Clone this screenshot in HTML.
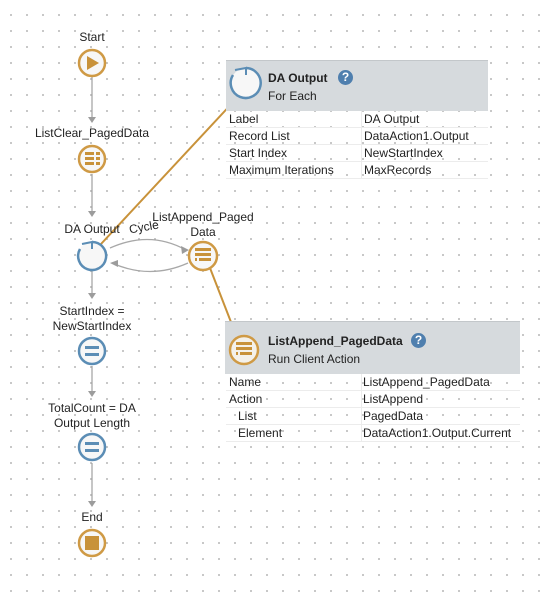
<!DOCTYPE html>
<html><head><meta charset="utf-8"><style>
html,body{margin:0;padding:0}
body{width:540px;height:603px;overflow:hidden;position:relative;background:#fff;
background-image:radial-gradient(circle,#b8b8b8 0.8px,transparent 1.1px);
background-size:16px 16px;background-position:3px 7px;
font-family:"Liberation Sans",sans-serif;font-size:12px;color:#222}
.lbl{position:absolute;text-align:center;font-size:12px;line-height:15px;color:#222}
.hdr{position:absolute;background:#d6dadd;border-top:1px solid #c3c7ca}
.hdr b{position:absolute;font-size:12px;font-weight:bold;white-space:nowrap}
.hdr span{position:absolute;font-size:12px;white-space:nowrap}
.q{width:15px;height:15px;border-radius:50%;background:#4f7fae;color:#fff;font-weight:bold;font-size:11px;text-align:center;line-height:15px}
.row{position:absolute;height:16px;line-height:16px;font-size:12px;border-bottom:1px solid #ececec}
.row i{font-style:normal;position:absolute;top:0}
</style></head><body>
<svg width="540" height="603" style="position:absolute;left:0;top:0">
<g stroke="#a8a8a8" stroke-width="1.3" fill="none">
<line x1="92" y1="77" x2="92" y2="120"/>
<line x1="92" y1="174" x2="92" y2="214"/>
<line x1="92" y1="271" x2="92" y2="296"/>
<line x1="92" y1="366" x2="92" y2="394"/>
<line x1="92" y1="463" x2="92" y2="504"/>
<path d="M110 248 Q150 230 186 250"/>
<path d="M188 263 Q150 280 112 263"/>
</g>
<g fill="#9c9c9c">
<path d="M88 117 L96 117 L92 123Z"/><path d="M88 211 L96 211 L92 217Z"/>
<path d="M88 293 L96 293 L92 299Z"/><path d="M88 391 L96 391 L92 397Z"/>
<path d="M88 501 L96 501 L92 507Z"/>
<path d="M181 246 L189 250 L182 254Z"/><path d="M118 260 L110 263 L118 267Z"/>
</g>
<g stroke="#c8923a" stroke-width="2">
<line x1="101" y1="244" x2="236" y2="99"/>
<line x1="210" y1="268" x2="236" y2="335"/>
</g>
<circle cx="92" cy="63" r="13" fill="#f7f7f7" stroke="#cf9a45" stroke-width="2.5"/>
<path d="M87 56 L99 63 L87 70Z" fill="#c8923a"/>
<circle cx="92" cy="159" r="13" fill="#f7f7f7" stroke="#cf9a45" stroke-width="2.5"/>
<g fill="#c8923a"><rect x="85" y="152" width="9" height="3"/><rect x="85" y="157" width="9" height="3"/><rect x="85" y="162" width="9" height="3"/>
<rect x="96" y="152" width="4" height="3"/><rect x="96" y="157" width="4" height="3"/><rect x="96" y="162" width="4" height="3"/></g>
<circle cx="92" cy="256" r="14" fill="#f7f7f7"/>
<path d="M92 242 A14 14 0 1 1 80 249" fill="none" stroke="#5b8db5" stroke-width="2.5"/>
<path d="M82 244 L92 242 L92 249" fill="none" stroke="#5b8db5" stroke-width="2"/>
<circle cx="203" cy="256" r="14" fill="#f7f7f7" stroke="#cf9a45" stroke-width="2.5"/>
<g fill="#c8923a"><rect x="195" y="248" width="16" height="3"/><rect x="195" y="253" width="16" height="3"/><rect x="199" y="258" width="12" height="3"/><rect x="195" y="258" width="2" height="3"/></g>
<circle cx="92" cy="351" r="13" fill="#f7f7f7" stroke="#5b8db5" stroke-width="2.5"/>
<g fill="#5b8db5"><rect x="85" y="346" width="14" height="3"/><rect x="85" y="353" width="14" height="3"/></g>
<circle cx="92" cy="447" r="13" fill="#f7f7f7" stroke="#5b8db5" stroke-width="2.5"/>
<g fill="#5b8db5"><rect x="85" y="442" width="14" height="3"/><rect x="85" y="449" width="14" height="3"/></g>
<circle cx="92" cy="543" r="13" fill="#f7f7f7" stroke="#cf9a45" stroke-width="2.5"/>
<rect x="85" y="536" width="14" height="14" fill="#c8923a"/>
</svg>
<div class="lbl" style="left:62px;top:30px;width:60px">Start</div>
<div class="lbl" style="left:22px;top:126px;width:140px">ListClear_PagedData</div>
<div class="lbl" style="left:52px;top:222px;width:80px">DA Output</div>
<div class="lbl" style="left:124px;top:220px;width:40px;transform:rotate(-10deg)">Cycle</div>
<div class="lbl" style="left:143px;top:210px;width:120px">ListAppend_Paged<br>Data</div>
<div class="lbl" style="left:32px;top:304px;width:120px">StartIndex =<br>NewStartIndex</div>
<div class="lbl" style="left:32px;top:401px;width:120px">TotalCount = DA<br>Output Length</div>
<div class="lbl" style="left:62px;top:510px;width:60px">End</div>

<div class="hdr" style="left:226px;top:60px;width:262px;height:50px">
<b style="left:42px;top:10px">DA Output</b><span style="left:42px;top:28px">For Each</span>
<span class="q" style="position:absolute;left:112px;top:9px">?</span>
</div>
<svg width="40" height="40" style="position:absolute;left:226px;top:63px"><circle cx="20" cy="20" r="15" fill="#f7f7f7"/><path d="M20 5 A15 15 0 1 1 7 12" fill="none" stroke="#5b8db5" stroke-width="2.5"/><path d="M9 7 L20 5 L20 12" fill="none" stroke="#5b8db5" stroke-width="2"/></svg>
<div class="row" style="left:226px;top:111px;width:262px"><i style="left:3px">Label</i><i style="left:138px">DA Output</i></div>
<div class="row" style="left:226px;top:128px;width:262px"><i style="left:3px">Record List</i><i style="left:138px">DataAction1.Output</i></div>
<div class="row" style="left:226px;top:145px;width:262px"><i style="left:3px">Start Index</i><i style="left:138px">NewStartIndex</i></div>
<div class="row" style="left:226px;top:162px;width:262px"><i style="left:3px">Maximum Iterations</i><i style="left:138px">MaxRecords</i></div>
<div style="position:absolute;left:361px;top:111px;width:1px;height:68px;background:#ececec"></div>

<div class="hdr" style="left:225px;top:321px;width:295px;height:52px">
<b style="left:43px;top:12px">ListAppend_PagedData</b><span style="left:43px;top:30px">Run Client Action</span>
<span class="q" style="position:absolute;left:186px;top:11px">?</span>
</div>
<svg width="40" height="40" style="position:absolute;left:224px;top:330px"><circle cx="20" cy="20" r="14" fill="#f4f1ea" stroke="#cf9a45" stroke-width="2.5"/>
<g fill="#c8923a"><rect x="12" y="12" width="16" height="3"/><rect x="12" y="17" width="16" height="3"/><rect x="16" y="22" width="12" height="3"/><rect x="12" y="22" width="2" height="3"/></g></svg>
<div class="row" style="left:226px;top:374px;width:294px"><i style="left:3px">Name</i><i style="left:137px">ListAppend_PagedData</i></div>
<div class="row" style="left:226px;top:391px;width:294px"><i style="left:3px">Action</i><i style="left:137px">ListAppend</i></div>
<div class="row" style="left:226px;top:408px;width:294px"><i style="left:12px">List</i><i style="left:137px">PagedData</i></div>
<div class="row" style="left:226px;top:425px;width:294px"><i style="left:12px">Element</i><i style="left:137px">DataAction1.Output.Current</i></div>
<div style="position:absolute;left:361px;top:374px;width:1px;height:68px;background:#ececec"></div>
</body></html>
